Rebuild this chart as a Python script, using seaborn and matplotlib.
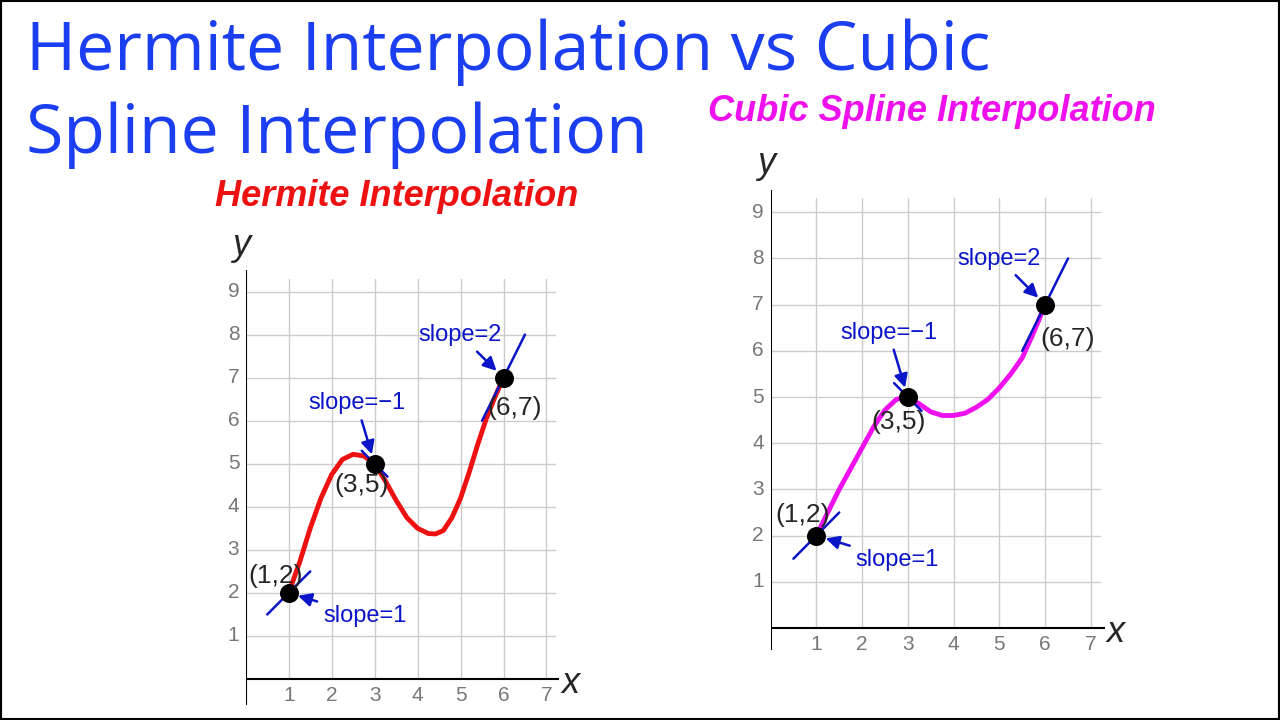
import numpy as np
import matplotlib.pyplot as plt
import seaborn as sns
import pandas as pd

# points
knots_x = [1, 3, 6]
knots_y = [2, 5, 7]
knot_labels = ['(1,2)', '(3,5)', '(6,7)']
slopes = [1, -1, 2]

hermite_x = [1.0, 1.25, 1.5, 1.75, 2.0, 2.25, 2.5, 2.75, 3.0, 3.25, 3.5, 3.75, 4.0, 4.25, 4.42, 4.6, 4.8, 5.0, 5.2, 5.4, 5.6, 5.8, 6.0]
hermite_y = [2.0, 2.7, 3.5, 4.2, 4.75, 5.1, 5.22, 5.18, 5.0, 4.6, 4.15, 3.75, 3.5, 3.38, 3.37, 3.45, 3.75, 4.2, 4.8, 5.45, 6.05, 6.55, 7.0]
spline_x = [1.0, 1.25, 1.5, 1.75, 2.0, 2.25, 2.5, 2.75, 3.0, 3.25, 3.5, 3.75, 4.0, 4.25, 4.5, 4.75, 5.0, 5.25, 5.5, 5.75, 6.0]
spline_y = [2.0, 2.5, 3.0, 3.45, 3.9, 4.35, 4.72, 4.95, 5.0, 4.85, 4.68, 4.6, 4.6, 4.65, 4.78, 4.95, 5.2, 5.5, 5.85, 6.4, 7.0]

sns.set_style('white')
plt.rcParams['font.family'] = ['Liberation Sans', 'DejaVu Sans']

fig = plt.figure(figsize=(12.8, 7.2), dpi=100)
fig.patches.append(plt.Rectangle((0.001, 0.002), 0.998, 0.996, transform=fig.transFigure,
                                 fill=False, ec='black', lw=1.5))
for line, yy in [('Hermite Interpolation vs Cubic', 1 - 52 / 720), ('Spline Interpolation', 1 - 135 / 720)]:
    fig.text(0.02, yy, line, color='#1a3ef0', fontsize=49, va='center', ha='left',
             family=['Open Sans', 'DejaVu Sans'])

blue = '#0a14c8'


def draw_panel(rect, xs, ys, color, title, ylim, label_offsets, slope_text):
    ax = fig.add_axes(rect)
    ax.set_xlim(0, 7.3)
    ax.set_ylim(*ylim)
    for s in ax.spines.values():
        s.set_visible(False)
    for gx in range(1, 8):
        ax.plot([gx, gx], [0, 9.3], color='#cccccc', lw=1, zorder=0)
    for gy in range(1, 10):
        ax.plot([0, 7.2], [gy, gy], color='#cccccc', lw=1, zorder=0)
    ax.axhline(0, color='black', lw=1.5)
    ax.axvline(0, color='black', lw=1.5)
    ax.set_xticks([])
    ax.set_yticks([])
    for gx in range(1, 8):
        ax.text(gx, -0.15, str(gx), ha='center', va='top', color='#777777', fontsize=15)
    for gy in range(1, 10):
        ax.text(-0.15, gy, str(gy), ha='right', va='center', color='#777777', fontsize=15)
    ax.text(7.35, -0.1, 'x', fontsize=26, style='italic', va='center', clip_on=False)
    ax.text(-0.1, 9.85, 'y', fontsize=26, style='italic', ha='center', clip_on=False)
    df = pd.DataFrame({'x': xs, 'y': ys})
    sns.lineplot(data=df, x='x', y='y', color=color, lw=3.5, ax=ax, zorder=3)
    ax.set_xlabel('')
    ax.set_ylabel('')
    for kx, ky, m in zip(knots_x, knots_y, slopes):
        h = {1: 0.5, -1: 0.3, 2: 0.5}[m]
        ax.plot([kx - h, kx + h], [ky - m * h, ky + m * h], color=blue, lw=1.8, zorder=4)
    sns.scatterplot(x=knots_x, y=knots_y, color='black', s=160, ax=ax, zorder=5, edgecolor='black')
    for (kx, ky), lab, off in zip(zip(knots_x, knots_y), knot_labels, label_offsets):
        ax.text(kx + off[0], ky + off[1], lab, fontsize=19, ha='center', va='center', zorder=6)
    for (kx, ky), (txt, tx, ty) in zip(zip(knots_x, knots_y), slope_text):
        ax.annotate(txt, xy=(kx, ky), xytext=(tx, ty), color=blue, fontsize=17, ha='center', va='center',
                    arrowprops=dict(arrowstyle='-|>', color=blue, lw=1.8, mutation_scale=20,
                                    shrinkA=2, shrinkB=7), zorder=6)
    ax.text(3.52, ylim[1] + 1.7, title, color=color, fontsize=26, fontweight='bold', style='italic',
            ha='center', va='center', clip_on=False)
    return ax


draw_panel([0.192, 0.021, 0.245, 0.604], hermite_x, hermite_y, '#ee1111', 'Hermite Interpolation',
           (-0.6, 9.5), [(-0.3, 0.4), (-0.3, -0.5), (0.25, -0.7)],
           [('slope=1', 2.77, 1.47), ('slope=\u22121', 2.58, 6.4), ('slope=2', 5.0, 7.98)])
draw_panel([0.602, 0.097, 0.261, 0.639], spline_x, spline_y, '#ee11ee', 'Cubic Spline Interpolation',
           (-0.48, 9.48), [(-0.3, 0.45), (-0.2, -0.55), (0.5, -0.75)],
           [('slope=1', 2.77, 1.47), ('slope=\u22121', 2.58, 6.39), ('slope=2', 5.0, 7.99)])

fig.savefig('out.png', dpi=100)
